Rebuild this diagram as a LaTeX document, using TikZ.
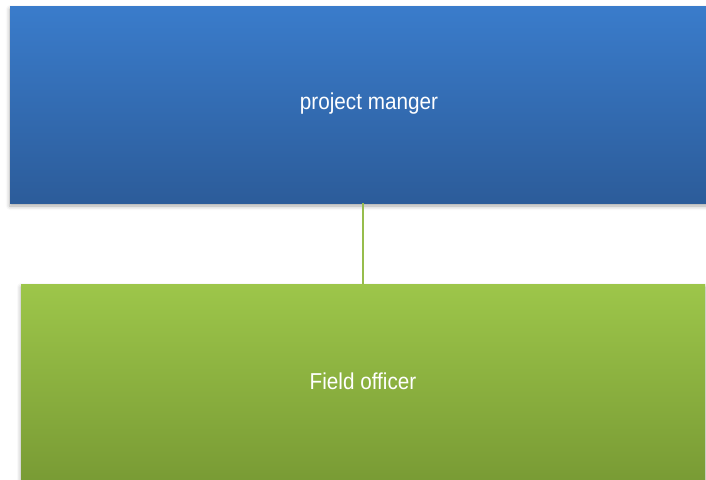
\documentclass[tikz,border=0pt]{standalone}
\usepackage{fontspec}
\setmainfont{Liberation Sans}[FakeStretch=0.9]
\usetikzlibrary{shadows.blur}
\definecolor{bluetop}{HTML}{3A7CCB}
\definecolor{bluebot}{HTML}{2C5C9A}
\definecolor{greentop}{HTML}{9DC64A}
\definecolor{greenbot}{HTML}{789A34}
\definecolor{linkgreen}{HTML}{97BD4C}
\tikzset{
  boxshadow/.style={blur shadow={shadow xshift=0pt, shadow yshift=-3pt, shadow blur radius=4pt, shadow opacity=35}},
  lbl/.style={text=white, font=\fontsize{23}{26}\selectfont},
  link/.style={draw=linkgreen, line width=2pt}
}
\begin{document}
\begin{tikzpicture}[x=1pt,y=-1pt]
\useasboundingbox (0,0) rectangle (706,479);
\clip (0,0) rectangle (706,479);
\path[boxshadow, top color=bluetop, bottom color=bluebot] (10,6) rectangle (728,203);
\node[lbl] (pm) at (369,104) {project manger};
\coordinate (pmb) at (363,203);
\path[boxshadow, top color=greentop, bottom color=greenbot] (21,284) rectangle (705,486);
\node[lbl] (fo) at (363,381) {Field officer};
\coordinate (fot) at (363,284);
\draw[link] (pmb) -- (fot);
\end{tikzpicture}
\end{document}
